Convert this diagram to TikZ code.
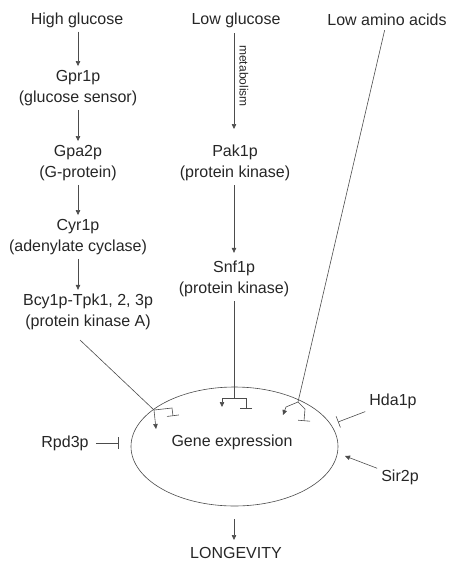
\documentclass[tikz,border=0pt]{standalone}
\usepackage{fontspec}
\setmainfont{Liberation Sans}
\usetikzlibrary{arrows.meta,shapes.geometric}
\tikzset{
  lbl/.style={font=\fontsize{16}{21}\selectfont, text=black!85, align=center, inner sep=4pt},
  con/.style={draw=black!70, line width=0.6pt},
  arr/.style={con, -{Triangle[length=5pt,width=4.5pt]}},
  tbar/.style={con, -{Bar[width=12pt,line width=0.6pt]}},
}
\begin{document}
\begin{tikzpicture}[x=1pt,y=-1pt]
\useasboundingbox (0,0) rectangle (451,563);
% nodes
\node[lbl] (hg) at (77,20) {High glucose};
\node[lbl] (gpr) at (78,88) {Gpr1p\\(glucose sensor)};
\node[lbl] (gpa) at (78,163) {Gpa2p\\(G-protein)};
\node[lbl] (cyr) at (78,237) {Cyr1p\\(adenylate cyclase)};
\node[lbl] (bcy) at (88,312) {Bcy1p-Tpk1, 2, 3p\\(protein kinase A)};
\node[lbl] (lg) at (236,20) {Low glucose};
\node[lbl] (pak) at (235,163) {Pak1p\\(protein kinase)};
\node[lbl] (snf) at (234,279) {Snf1p\\(protein kinase)};
\node[lbl] (laa) at (387,20) {Low amino acids};
\node[font=\fontsize{12}{12}\selectfont, text=black!85, rotate=-90, inner sep=0pt] (met) at (244,76) {metabolism};
\node[ellipse, draw=black!70, line width=0.6pt, minimum width=207pt, minimum height=119pt, inner sep=0pt] (ge) at (234.5,446.5) {};
\node[lbl] (gel) at (232,442) {Gene expression};
\node[lbl] (rpd) at (65,443) {Rpd3p};
\node[lbl] (hda) at (393,401) {Hda1p};
\node[lbl] (sir) at (400,477) {Sir2p};
\node[lbl] (lon) at (236,553) {LONGEVITY};
% left cascade
\draw[arr] (hg.south -| gpr) -- (gpr.north);
\draw[arr] (gpr.south) -- (gpa.north);
\draw[arr] (gpa.south) -- (cyr.north);
\draw[arr] (cyr.south) -- (cyr.south |- bcy.north);
% middle cascade
\coordinate (lgout) at (234,33);
\coordinate (pakin) at (234,129);
\draw[arr] (lgout) -- (pakin);
\draw[arr, shorten >=4pt] (pak.south -| snf) -- (snf.north);
% Snf1p fork
\coordinate (fS) at (234,398);
\coordinate (fSl) at (222,398);
\coordinate (fSa) at (222,407);
\coordinate (fSr) at (246,398);
\coordinate (fSt) at (246,409);
\draw[con] (snf.south) -- (fS);
\draw[arr] (fS) -- (fSl) -- (fSa);
\draw[tbar] (fS) -- (fSr) -- (fSt);
% Bcy1p fork
\coordinate (bcyout) at (80,340);
\coordinate (fB) at (154,410);
\coordinate (fBa) at (156,429);
\coordinate (fBr) at (172,408);
\coordinate (fBt) at (173,416);
\draw[con] (bcyout) -- (fB);
\draw[arr] (fB) -- (fBa);
\draw[tbar] (fB) -- (fBr) -- (fBt);
% amino acids fork
\coordinate (fA) at (298,402);
\coordinate (fAl) at (286,407);
\coordinate (fAa) at (283,415);
\coordinate (fAr) at (305,409);
\coordinate (fAt) at (304,421);
\draw[con] (laa) -- (fA);
\draw[arr] (fA) -- (fAl) -- (fAa);
\draw[tbar] (fA) -- (fAr) -- (fAt);
% side regulators
\coordinate (rpdT) at (119,443);
\draw[tbar, shorten <=3pt] (rpd) -- (rpdT);
\coordinate (hdaT) at (338,422);
\draw[tbar] (hda) -- (hdaT);
\coordinate (sirA) at (345,456);
\draw[arr] (sir) -- (sirA);
% longevity
\coordinate (geout) at (234,519);
\coordinate (lonin) at (234,540);
\draw[arr] (geout) -- (lonin);
\end{tikzpicture}
\end{document}
